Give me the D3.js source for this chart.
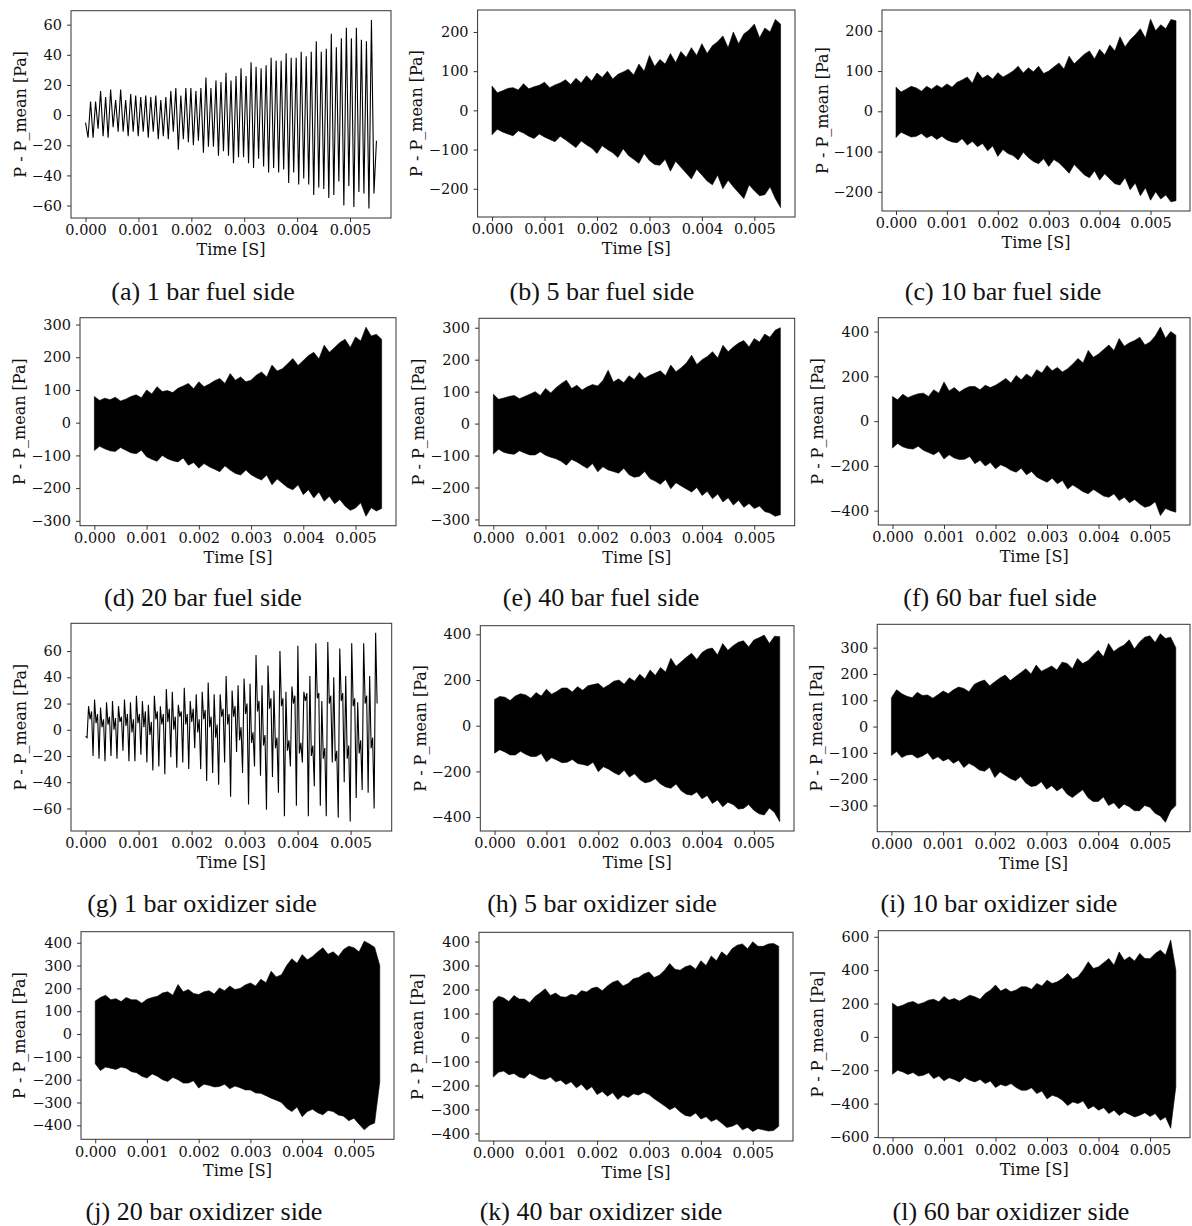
<!DOCTYPE html>
<html>
<head>
<meta charset="utf-8">
<script src="https://cdn.jsdelivr.net/npm/d3@7"></script>
<style>
  body { margin: 0; background: #fff; }
  .tick text { font-family: "DejaVu Serif", serif; font-size: 14.5px; fill: #111; }
  .tick line { stroke: #333; }
  .axlabel { font-family: "DejaVu Serif", serif; font-size: 16px; fill: #111; }
  .caption { font-family: "Liberation Serif", "Times New Roman", serif; font-size: 26px; fill: #111; }
</style>
</head>
<body>
<script>
// common x ticks (time, seconds)
var timeTicks = [0, 0.001, 0.002, 0.003, 0.004, 0.005];
var tStart = 0, tEnd = 0.0055;

// sample times of the envelope readings for the dense signals
var envT = [0, 0.0001, 0.0002, 0.0003, 0.0004, 0.0005, 0.0006, 0.0007, 0.0008, 0.0009,
  0.001, 0.0011, 0.0012, 0.0013, 0.0014, 0.0015, 0.0016, 0.0017, 0.0018, 0.0019,
  0.002, 0.0021, 0.0022, 0.0023, 0.0024, 0.0025, 0.0026, 0.0027, 0.0028, 0.0029,
  0.003, 0.0031, 0.0032, 0.0033, 0.0034, 0.0035, 0.0036, 0.0037, 0.0038, 0.0039,
  0.004, 0.0041, 0.0042, 0.0043, 0.0044, 0.0045, 0.0046, 0.0047, 0.0048, 0.0049,
  0.005, 0.0051, 0.0052, 0.0053, 0.0054, 0.0055];

// (a) 1 bar fuel side - successive extremes of the trace
var aWave = [-5, -15, 9, -15, 9, -9, 16, -14, 12, -15, 17, -8, 10, -11, 17, -11, 10, -14, 14, -11,
  13, -14, 12, -11, 13, -15, 12, -11, 13, -16, 10, -14, 12, -16, 16, -11, 18, -23, 13, -16,
  18, -18, 18, -20, 16, -17, 18, -25, 25, -21, 18, -21, 23, -27, 22, -24, 28, -27, 23, -32,
  26, -28, 31, -28, 26, -32, 35, -35, 32, -29, 31, -34, 33, -38, 38, -35, 36, -38, 36, -36,
  41, -45, 38, -38, 38, -46, 42, -42, 39, -46, 42, -53, 49, -48, 42, -49, 44, -55, 54, -53,
  45, -44, 51, -60, 58, -47, 51, -61, 58, -51, 50, -52, 49, -62, 63, -52, -17];
var aTicks = [-60, -40, -20, 0, 20, 40, 60];

// (g) 1 bar oxidizer side - successive extremes of the trace
var gWave = [-5, -6,
  18, 8, 14, -20, 23, 5, 12, -22, 17, 2, 8, -24, 21, 4, 10, -20, 22, 0, 9, -22,
  18, 6, 10, -16, 23, 3, 12, -24, 21, -2, 8, -24, 26, 5, 12, -19, 22, 2, 14, -25,
  19, -4, 6, -31, 26, 8, 14, -28, 18, 4, 12, -34, 31, 6, 16, -21, 29, 0, 10, -29,
  19, 10, 14, -25, 32, 4, 12, -30, 22, 6, 16, -14, 27, -2, 8, -30, 29, 8, 15, -39,
  36, 2, 10, -33, 27, -6, 4, -42, 27, 10, 16, -25, 41, 4, 12, -51, 30, 10, 18, -17,
  34, -8, 2, -33, 39, 12, 20, -57, 35, -10, -2, -28, 57, 14, 22, -35, 34, -12, -4, -61,
  49, 16, 24, -36, 30, -14, -6, -48, 60, 18, 24, -66, 29, -16, -8, -28, 33, 20, 26, -58,
  64, -18, -10, -25, 29, 22, 28, -66, 41, -20, -12, -43, 66, 24, 28, -58, 22, -22, -14, -66,
  67, 20, 26, -25, 40, -24, -16, -67, 62, 22, 28, -40, 41, -22, -12, -70, 66, 18, 24, -52,
  21, -18, -8, -46, 66, 20, 26, -48, 41, -14, -6, -60, 74, 20];
var gTicks = [-60, -40, -20, 0, 20, 40, 60];

// dense traces: upper and lower envelope read at envT
var bHi = [62, 45, 50, 56, 58, 52, 68, 55, 60, 64, 72, 58, 65, 70, 78, 66, 82, 70, 88, 75,
  95, 84, 100, 80, 92, 98, 105, 90, 118, 100, 140, 112, 130, 118, 145, 122, 150, 135, 160, 140,
  170, 145, 165, 175, 190, 160, 200, 170, 195, 205, 220, 185, 210, 200, 232, 220];
var bLo = [-62, -48, -55, -60, -65, -52, -58, -66, -72, -60, -68, -74, -80, -66, -75, -85, -95, -78, -88, -96,
  -110, -90, -100, -108, -120, -98, -115, -125, -135, -110, -128, -138, -140, -125, -155, -130, -145, -160, -175, -150,
  -165, -180, -190, -165, -200, -178, -195, -210, -225, -190, -205, -218, -215, -195, -225, -248];
var bTicks = [-200, -100, 0, 100, 200];

var cHi = [60, 48, 55, 62, 58, 50, 62, 55, 65, 58, 68, 60, 72, 78, 85, 70, 98, 82, 90, 80,
  96, 85, 92, 100, 112, 95, 108, 98, 112, 94, 100, 110, 120, 105, 137, 118, 130, 142, 150, 130,
  154, 140, 165, 150, 185, 160, 178, 190, 205, 182, 229, 200, 215, 205, 228, 225];
var cLo = [-65, -52, -58, -64, -62, -55, -66, -60, -70, -62, -71, -76, -78, -68, -84, -75, -88, -80, -98, -86,
  -112, -95, -105, -110, -121, -102, -115, -125, -130, -118, -137, -120, -128, -140, -154, -132, -145, -158, -165, -148,
  -171, -155, -168, -180, -183, -165, -195, -178, -210, -190, -221, -200, -218, -208, -225, -222];
var cTicks = [-200, -100, 0, 100, 200];

var dHi = [80, 68, 75, 70, 78, 66, 72, 80, 85, 76, 100, 88, 110, 95, 98, 92, 105, 112, 120, 104,
  125, 110, 118, 128, 135, 120, 150, 130, 140, 125, 130, 145, 155, 140, 176, 158, 165, 180, 196, 175,
  190, 205, 215, 195, 237, 215, 230, 245, 255, 230, 262, 250, 292, 265, 270, 255];
var dLo = [-85, -72, -80, -86, -88, -76, -84, -92, -95, -84, -104, -112, -118, -100, -110, -116, -120, -108, -130, -122,
  -139, -125, -135, -142, -150, -132, -145, -155, -160, -145, -159, -168, -175, -160, -190, -172, -185, -198, -205, -190,
  -220, -205, -230, -212, -240, -225, -248, -235, -255, -268, -261, -245, -286, -260, -270, -262];
var dTicks = [-300, -200, -100, 0, 100, 200, 300];

var eHi = [92, 76, 80, 85, 88, 78, 85, 92, 100, 88, 110, 96, 112, 125, 136, 110, 120, 105, 115, 122,
  118, 135, 167, 130, 140, 128, 150, 138, 160, 142, 151, 158, 165, 150, 183, 162, 175, 190, 214, 185,
  200, 210, 225, 205, 245, 225, 240, 252, 260, 240, 266, 255, 280, 270, 292, 300];
var eLo = [-95, -80, -90, -94, -96, -85, -92, -98, -98, -88, -99, -105, -110, -118, -130, -112, -120, -130, -140, -125,
  -151, -135, -145, -150, -155, -140, -160, -168, -165, -150, -172, -180, -190, -175, -204, -185, -195, -205, -214, -200,
  -225, -212, -235, -220, -245, -232, -255, -240, -262, -250, -266, -258, -275, -280, -290, -285];
var eTicks = [-300, -200, -100, 0, 100, 200, 300];

var fHi = [110, 95, 120, 105, 115, 122, 125, 110, 140, 125, 175, 135, 150, 130, 145, 155, 155, 140, 160, 150,
  160, 175, 190, 170, 204, 185, 210, 195, 230, 215, 249, 225, 240, 220, 234, 255, 280, 260, 316, 285,
  300, 320, 340, 315, 369, 335, 350, 360, 375, 340, 354, 380, 420, 370, 400, 384];
var fLo = [-120, -100, -115, -122, -125, -112, -130, -140, -150, -135, -169, -150, -165, -172, -170, -158, -190, -175, -200, -185,
  -213, -195, -205, -220, -228, -210, -240, -225, -250, -262, -273, -255, -280, -265, -303, -285, -300, -315, -325, -305,
  -320, -335, -340, -325, -355, -340, -365, -350, -370, -385, -378, -360, -422, -390, -400, -407];
var fTicks = [-400, -200, 0, 200, 400];

var hHi = [115, 128, 125, 110, 130, 140, 135, 120, 145, 130, 160, 138, 150, 165, 165, 148, 171, 155, 175, 180,
  185, 165, 178, 195, 200, 182, 210, 195, 225, 205, 244, 220, 255, 235, 295, 260, 280, 300, 317, 290,
  320, 335, 340, 310, 360, 330, 350, 365, 372, 345, 375, 385, 397, 360, 392, 390];
var hLo = [-120, -105, -115, -128, -128, -112, -125, -135, -135, -122, -158, -140, -150, -162, -160, -148, -165, -170, -175, -160,
  -201, -180, -190, -205, -216, -195, -225, -210, -235, -250, -245, -232, -255, -268, -274, -255, -285, -300, -304, -290,
  -320, -305, -340, -325, -355, -335, -345, -365, -362, -345, -370, -385, -391, -360, -380, -420];
var hTicks = [-400, -200, 0, 200, 400];

var iHi = [110, 140, 125, 115, 110, 130, 118, 120, 108, 121, 135, 125, 140, 150, 145, 132, 160, 170, 177, 155,
  170, 185, 196, 175, 190, 205, 220, 200, 234, 210, 220, 230, 215, 245, 240, 220, 259, 240, 250, 270,
  290, 265, 316, 285, 300, 310, 330, 295, 322, 340, 345, 320, 353, 335, 340, 300];
var iLo = [-110, -95, -118, -108, -106, -120, -112, -100, -125, -115, -131, -122, -140, -128, -156, -140, -150, -165, -170, -155,
  -194, -172, -185, -198, -206, -190, -215, -228, -225, -210, -238, -225, -245, -232, -257, -270, -255, -240, -270, -285,
  -285, -268, -300, -290, -313, -295, -305, -320, -320, -300, -307, -330, -340, -364, -320, -300];
var iTicks = [-300, -200, -100, 0, 100, 200, 300];

var jHi = [145, 160, 170, 150, 155, 142, 160, 150, 150, 135, 152, 160, 165, 180, 185, 170, 217, 185, 195, 178,
  173, 185, 190, 175, 202, 190, 210, 195, 200, 215, 224, 210, 240, 225, 275, 250, 260, 300, 330, 310,
  348, 325, 340, 360, 378, 350, 360, 340, 370, 385, 378, 360, 407, 395, 380, 300];
var jLo = [-130, -160, -145, -150, -155, -145, -150, -165, -170, -185, -193, -175, -185, -200, -208, -190, -200, -215, -215, -205,
  -237, -220, -225, -232, -230, -220, -240, -228, -235, -245, -245, -258, -260, -270, -281, -290, -300, -325, -340, -320,
  -362, -340, -330, -345, -354, -335, -340, -355, -360, -380, -369, -395, -420, -400, -390, -210];
var jTicks = [-400, -300, -200, -100, 0, 100, 200, 300, 400];

var kHi = [150, 172, 165, 150, 175, 160, 160, 145, 170, 185, 203, 175, 185, 170, 168, 180, 175, 195, 190, 205,
  210, 195, 215, 230, 238, 215, 225, 245, 250, 265, 273, 250, 260, 280, 308, 285, 280, 295, 301, 285,
  320, 300, 340, 320, 357, 340, 370, 385, 390, 370, 399, 380, 380, 390, 392, 380];
var kLo = [-165, -145, -140, -155, -150, -165, -170, -150, -160, -172, -175, -165, -185, -178, -196, -185, -210, -195, -220, -205,
  -238, -225, -245, -230, -259, -240, -250, -235, -240, -228, -238, -255, -270, -285, -301, -290, -310, -325, -329, -315,
  -340, -330, -350, -340, -357, -375, -370, -360, -385, -375, -392, -380, -385, -390, -388, -370];
var kTicks = [-400, -300, -200, -100, 0, 100, 200, 300, 400];

var lHi = [202, 180, 190, 205, 212, 195, 205, 220, 225, 210, 242, 220, 230, 215, 232, 250, 240, 225, 260, 280,
  311, 275, 290, 270, 281, 300, 300, 285, 320, 305, 340, 320, 330, 350, 380, 345, 360, 400, 450, 410,
  420, 445, 470, 430, 509, 460, 480, 455, 500, 470, 469, 500, 520, 490, 580, 400];
var lLo = [-224, -200, -210, -225, -214, -235, -230, -215, -250, -235, -263, -245, -255, -270, -244, -260, -270, -255, -280, -265,
  -303, -285, -295, -280, -303, -320, -320, -305, -340, -325, -372, -350, -360, -380, -412, -390, -400, -385, -432, -415,
  -440, -425, -460, -440, -471, -450, -465, -480, -470, -455, -477, -460, -500, -480, -548, -300];
var lTicks = [-600, -400, -200, 0, 200, 400, 600];

// layout of the 12 sub-figures: plot box [left, right, top, bottom]
var panels = [
  { cap: "(a) 1 bar fuel side",      wave: aWave, ticks: aTicks, box: [71, 391, 10.7, 218],    ylx: 20,  capx: 203 },
  { cap: "(b) 5 bar fuel side",      hi: bHi, lo: bLo, ticks: bTicks, box: [477.6, 795, 10, 217],   ylx: 416, capx: 602 },
  { cap: "(c) 10 bar fuel side",     hi: cHi, lo: cLo, ticks: cTicks, box: [882, 1190, 10, 211],    ylx: 822, capx: 1003 },
  { cap: "(d) 20 bar fuel side",     hi: dHi, lo: dLo, ticks: dTicks, box: [80, 396, 317.7, 525.7], ylx: 19,  capx: 203 },
  { cap: "(e) 40 bar fuel side",     hi: eHi, lo: eLo, ticks: eTicks, box: [479, 794.7, 318.3, 525.7], ylx: 418, capx: 601 },
  { cap: "(f) 60 bar fuel side",     hi: fHi, lo: fLo, ticks: fTicks, box: [878.3, 1190, 317.7, 525], ylx: 817, capx: 1000 },
  { cap: "(g) 1 bar oxidizer side",  wave: gWave, ticks: gTicks, box: [71, 391.7, 623.3, 831], ylx: 20,  capx: 202 },
  { cap: "(h) 5 bar oxidizer side",  hi: hHi, lo: hLo, ticks: hTicks, box: [480.3, 794, 625.7, 831], ylx: 420, capx: 602 },
  { cap: "(i) 10 bar oxidizer side", hi: iHi, lo: iLo, ticks: iTicks, box: [877.2, 1190, 624.3, 831.7], ylx: 816, capx: 999 },
  { cap: "(j) 20 bar oxidizer side", hi: jHi, lo: jLo, ticks: jTicks, box: [81, 394, 931.7, 1139.3], ylx: 19,  capx: 204 },
  { cap: "(k) 40 bar oxidizer side", hi: kHi, lo: kLo, ticks: kTicks, box: [479, 793, 932.3, 1141],  ylx: 417, capx: 601 },
  { cap: "(l) 60 bar oxidizer side", hi: lHi, lo: lLo, ticks: lTicks, box: [878.3, 1190, 930.7, 1137.7], ylx: 817, capx: 1011 }
];
var captionY = [292, 598, 904, 1211.5];

var svg = d3.select("body")
    .append("svg")
    .attr("width", 1192)
    .attr("height", 1226);

var tickFmt = d3.format(".3f");

panels.forEach(function (p, n) {
    var x0 = p.box[0], x1 = p.box[1], y0 = p.box[2], y1 = p.box[3];
    var g = svg.append("g");

    // matplotlib style 5% margins round the data
    var tPad = (tEnd - tStart) * 0.05;
    var vals = p.wave ? p.wave : p.hi.concat(p.lo);
    var ext = d3.extent(vals);
    var vPad = (ext[1] - ext[0]) * 0.05;

    var xScale = d3.scaleLinear()
        .domain([tStart - tPad, tEnd + tPad])
        .range([x0, x1]);
    var yScale = d3.scaleLinear()
        .domain([ext[0] - vPad, ext[1] + vPad])
        .range([y1, y0]);

    if (p.wave) {
        // extremes are evenly spread over the record
        var idx = d3.scaleLinear().domain([0, p.wave.length - 1]).range([tStart, tEnd]);
        g.append("path")
            .datum(p.wave)
            .attr("fill", "none")
            .attr("stroke", "#000")
            .attr("stroke-width", 1.1)
            .attr("d", d3.line()
                .x(function (d, i) { return xScale(idx(i)); })
                .y(function (d) { return yScale(d); }));
    } else {
        g.append("path")
            .datum(envT)
            .attr("fill", "#000")
            .attr("stroke", "#000")
            .attr("stroke-width", 0.6)
            .attr("d", d3.area()
                .x(function (d) { return xScale(d); })
                .y0(function (d, i) { return yScale(p.lo[i]); })
                .y1(function (d, i) { return yScale(p.hi[i]); }));
    }

    // frame
    g.append("rect")
        .attr("x", x0)
        .attr("y", y0)
        .attr("width", x1 - x0)
        .attr("height", y1 - y0)
        .attr("fill", "none")
        .attr("stroke", "#333")
        .attr("stroke-width", 1);

    var xAxis = d3.axisBottom(xScale)
        .tickValues(timeTicks)
        .tickFormat(tickFmt)
        .tickSize(4)
        .tickPadding(3);
    g.append("g")
        .attr("transform", "translate(0," + y1 + ")")
        .call(xAxis)
        .call(function (s) { s.select(".domain").remove(); });

    var yAxis = d3.axisLeft(yScale)
        .tickValues(p.ticks)
        .tickSize(4)
        .tickPadding(5);
    g.append("g")
        .attr("transform", "translate(" + x0 + ",0)")
        .call(yAxis)
        .call(function (s) { s.select(".domain").remove(); });

    g.selectAll(".tick text").attr("font-size", null).attr("font-family", null);

    // axis titles
    g.append("text")
        .attr("class", "axlabel")
        .attr("x", (x0 + x1) / 2)
        .attr("y", y1 + 37)
        .attr("text-anchor", "middle")
        .text("Time [S]");
    g.append("text")
        .attr("class", "axlabel")
        .attr("transform", "translate(" + p.ylx + "," + ((y0 + y1) / 2) + ") rotate(-90)")
        .attr("text-anchor", "middle")
        .attr("dy", "0.35em")
        .text("P - P_mean [Pa]");

    // sub-figure caption
    svg.append("text")
        .attr("class", "caption")
        .attr("x", p.capx)
        .attr("y", captionY[Math.floor(n / 3)] + 8)
        .attr("text-anchor", "middle")
        .text(p.cap);
});
</script>
</body>
</html>
